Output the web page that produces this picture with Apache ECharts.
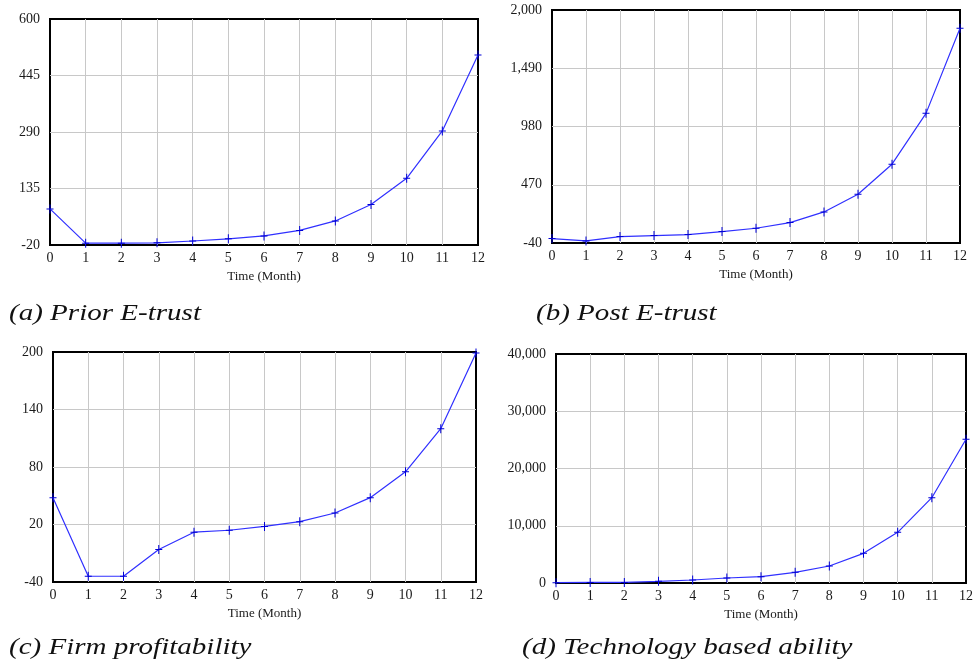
<!DOCTYPE html>
<html>
<head>
<meta charset="utf-8">
<script src="https://cdn.jsdelivr.net/npm/echarts@6/dist/echarts.min.js"></script>
<style>
  html, body { margin: 0; padding: 0; background: #fff; }
  #main { width: 976px; height: 668px; }
</style>
</head>
<body>
<div id="main"></div>
<script>
// 月份
var months = [0, 1, 2, 3, 4, 5, 6, 7, 8, 9, 10, 11, 12];

// (a) Prior E-trust
var priorTrust = [79, -15, -15, -14, -9, -3, 5, 20, 46, 91, 163, 293, 501];
// (b) Post E-trust
var postTrust = [-1, -22, 16, 25, 34, 60, 89, 139, 232, 387, 650, 1095, 1840];
// (c) Firm profitability
var profit = [48, -34, -34, -6, 12, 14, 18, 23, 32, 48, 75, 120, 199];
// (d) Technology based ability
var techAbility = [50, 100, 100, 290, 520, 870, 1100, 1860, 2970, 5180, 8850, 14900, 25100];

// y轴刻度
var ticksA = [-20, 135, 290, 445, 600];
var ticksB = [-40, 470, 980, 1490, 2000];
var ticksC = [-40, 20, 80, 140, 200];
var ticksD = [0, 10000, 20000, 30000, 40000];

var captions = ['(a) Prior E-trust', '(b) Post E-trust', '(c) Firm profitability', '(d) Technology based ability'];

var myChart = echarts.init(document.getElementById('main'), null, { renderer: 'canvas' });

var fontFamily = '"Liberation Serif", "Times New Roman", serif';
var textColor = '#1a1a1a';

var grids = [
	{ left: 50, top: 19, width: 428, height: 226 },
	{ left: 552, top: 10, width: 408, height: 233 },
	{ left: 53, top: 352, width: 423, height: 230 },
	{ left: 556, top: 354, width: 414, height: 229 }
];
// 标题位置
var captionPos = [[9, 302], [536, 302], [9, 636], [522, 636]];
var yTicks = [ticksA, ticksB, ticksC, ticksD];
var seriesData = [priorTrust, postTrust, profit, techAbility];

var plusSymbol = 'path://M3,0h1v4h3v1h-3v4h-1v-4h-3v-1h3z';

var option = {
	backgroundColor: '#fff',
	animation: false,
	graphic: captions.map(function (c, i) {
		return {
			type: 'text',
			x: captionPos[i][0],
			y: captionPos[i][1],
			scaleX: 1.21,
			style: {
				text: c,
				font: 'italic 24px ' + fontFamily,
				fill: '#111',
				verticalAlign: 'top'
			}
		};
	}),
	grid: grids.map(function (g) {
		return {
			left: g.left, top: g.top, width: g.width, height: g.height,
			show: true, borderColor: '#000', borderWidth: 2, backgroundColor: '#fff'
		};
	}),
	xAxis: grids.map(function (g, i) {
		return {
			type: 'value',
			gridIndex: i,
			min: 0,
			max: 12,
			interval: 1,
			name: 'Time (Month)',
			nameLocation: 'middle',
			nameGap: 25,
			nameTextStyle: { fontFamily: fontFamily, fontSize: 13, color: textColor },
			axisLine: { show: false },
			axisTick: { show: false },
			axisLabel: { fontFamily: fontFamily, fontSize: 14, color: textColor, margin: 6 },
			splitLine: { show: true, showMinLine: false, showMaxLine: false, lineStyle: { color: '#c8c8c8', width: 1 } }
		};
	}),
	yAxis: grids.map(function (g, i) {
		var t = yTicks[i];
		return {
			type: 'value',
			gridIndex: i,
			min: t[0],
			max: t[t.length - 1],
			axisLine: { show: false },
			axisTick: { show: false, customValues: t },
			axisLabel: {
				customValues: t,
				fontFamily: fontFamily, fontSize: 14, color: textColor, margin: 10,
				formatter: function (v) { return Number(v).toLocaleString('en-US'); }
			},
			splitLine: { show: true, showMinLine: false, showMaxLine: false, lineStyle: { color: '#c8c8c8', width: 1 } }
		};
	}),
	series: seriesData.map(function (d, i) {
		return {
			type: 'line',
			xAxisIndex: i,
			yAxisIndex: i,
			data: months.map(function (m, k) { return [m, d[k]]; }),
			symbol: plusSymbol,
			symbolSize: [7, 9],
			showSymbol: true,
			itemStyle: { color: '#0000d8' },
			lineStyle: { color: '#3030ff', width: 1.2 }
		};
	})
};

myChart.setOption(option);
</script>
</body>
</html>
